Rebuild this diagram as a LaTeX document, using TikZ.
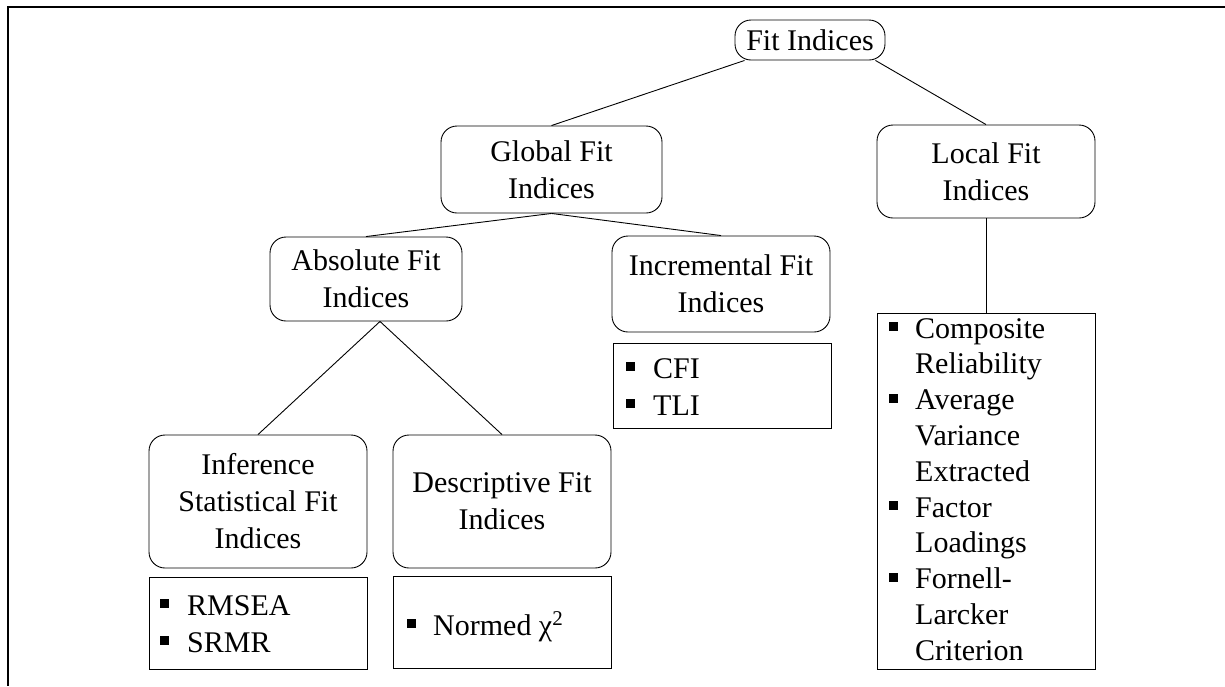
\documentclass[tikz,border=0pt]{standalone}
\usepackage{fontspec}
\setmainfont{Liberation Serif}
\newcommand{\sqb}{\rule[7pt]{9pt}{9pt}}
\begin{document}
\begin{tikzpicture}[x=1pt,y=-1pt,
  rbox/.style={draw, rounded corners=16pt, line width=0.9pt, align=center, inner sep=0pt, font=\fontsize{30}{37}\selectfont},
  lbox/.style={draw, line width=0.9pt, inner sep=0pt},
  item/.style={anchor=base west, inner sep=0pt, font=\fontsize{30}{37}\selectfont},
  conn/.style={line width=0.9pt},
  frame/.style={line width=2pt}]
\useasboundingbox (0,0) rectangle (1225,686);
\draw[frame] (1225,7) -- (7.7,7) -- (7.7,686);

\node[rbox, minimum width=150pt, minimum height=40pt] (fit) at (810,40) {Fit Indices};
\node[rbox, minimum width=221pt, minimum height=87pt] (global) at (551.5,169.5) {Global Fit\\Indices};
\node[rbox, minimum width=218pt, minimum height=93pt] (local) at (986,171.5) {Local Fit\\Indices};
\node[rbox, minimum width=192pt, minimum height=84pt] (absolute) at (366,279) {Absolute Fit\\Indices};
\node[rbox, minimum width=218pt, minimum height=96pt] (incr) at (721,284) {Incremental Fit\\Indices};
\node[rbox, minimum width=218pt, minimum height=133pt] (infer) at (258,501.5) {Inference\\Statistical Fit\\Indices};
\node[rbox, minimum width=218pt, minimum height=133pt] (descr) at (502,501.5) {Descriptive Fit\\Indices};

\node[lbox, minimum width=218pt, minimum height=92pt] (rbx) at (258,623) {};
\node[lbox, minimum width=218pt, minimum height=92pt] (nbx) at (502.5,622.5) {};
\node[lbox, minimum width=218pt, minimum height=85pt] (cbx) at (722,385.5) {};
\node[lbox, minimum width=218pt, minimum height=356pt] (lbx) at (986,491) {};

\draw[conn] ([xshift=10pt]fit.south west) -- (global.north);
\draw[conn] ([xshift=-10pt]fit.south east) -- (local.north);
\draw[conn] (global.south) -- (absolute.north);
\draw[conn] (global.south) -- (incr.north);
\draw[conn] ([xshift=14pt]absolute.south) -- (infer.north);
\draw[conn] ([xshift=14pt]absolute.south) -- (descr.north);
\draw[conn] (local.south) -- (lbx.north);

\node[item] (r1) at (160,615) {\sqb\hspace{18pt}RMSEA};
\node[item] (r2) at (160,652) {\sqb\hspace{18pt}SRMR};
\node[item] (n1) at (407,635) {\sqb\hspace{17pt}Normed χ\textsuperscript{2}};
\node[item] (c1) at (626,378) {\sqb\hspace{18pt}CFI};
\node[item] (c2) at (626,415) {\sqb\hspace{18pt}TLI};
\foreach \t/\b [count=\i from 0] in {Composite/1,Reliability/0,Average/1,Variance/0,Extracted/0,Factor/1,Loadings/0,Fornell-/1,Larcker/0,Criterion/0}
  \node[item] (li\i) at (889,{338+35.8*\i}) {\ifnum\b=1 \sqb\hspace{17pt}\else\hspace*{26pt}\fi\t};
\end{tikzpicture}
\end{document}
